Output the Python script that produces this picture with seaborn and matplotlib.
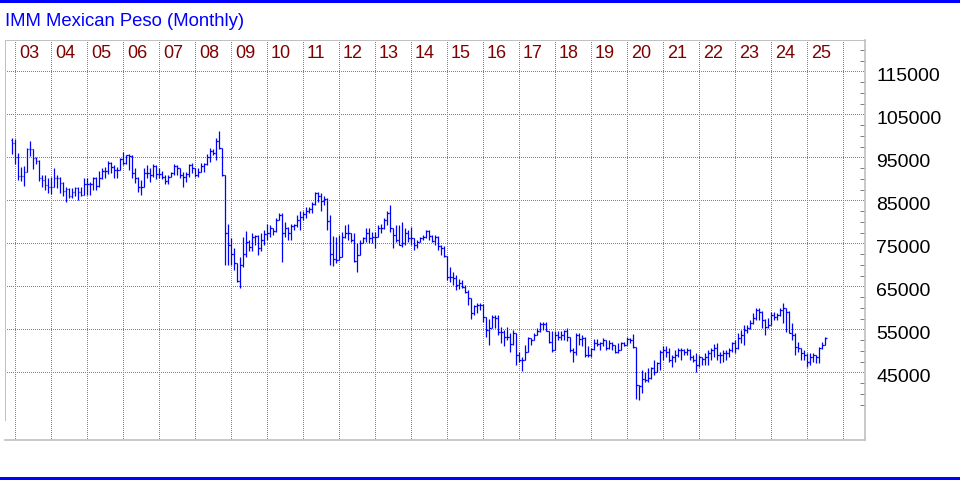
import numpy as np
import matplotlib
matplotlib.use("Agg")
import matplotlib.pyplot as plt
import matplotlib.transforms as mtransforms
from matplotlib.ticker import FixedLocator
import seaborn as sns

title = "IMM Mexican Peso (Monthly)"
years = ["03", "04", "05", "06", "07", "08", "09", "10", "11", "12", "13", "14",
         "15", "16", "17", "18", "19", "20", "21", "22", "23", "24", "25"]
price_labels = [45000, 55000, 65000, 75000, 85000, 95000, 105000, 115000]

# monthly bars Dec 2002 .. Jul 2025, prices in thousands
opens = [99.0,
         98.3, 95.0, 90.7, 90.6, 91.5, 96.9, 96.9, 94.8, 94.1, 90.1, 89.8, 88.5,
         88.0, 88.2, 90.3, 90.3, 89.0, 87.2, 87.6, 85.9, 87.0, 87.8, 87.0, 86.3,
         88.7, 88.7, 88.7, 90.1, 88.4, 90.1, 91.8, 91.8, 93.6, 92.7, 92.1, 92.1,
         94.5, 93.6, 95.5, 95.4, 91.3, 90.3, 88.2, 88.2, 91.3, 91.3, 90.9, 93.0,
         91.0, 91.0, 90.5, 89.5, 90.5, 91.3, 93.0, 92.4, 90.9, 90.5, 91.0, 93.2,
         92.4, 90.9, 91.6, 93.0, 93.4, 95.1, 96.5, 95.9, 98.8, 97.1, 90.9, 77.3,
         74.6, 72.5, 70.3, 66.3, 70.0, 72.5, 75.3, 74.2, 76.5, 76.8, 74.0, 75.8,
         77.2, 77.5, 78.5, 77.8, 80.5, 81.5, 77.3, 78.5, 77.5, 79.0, 79.3, 80.5,
         81.0, 81.8, 82.5, 83.0, 84.2, 86.8, 86.0, 84.8, 85.2, 80.3, 72.6, 71.3,
         71.1, 71.9, 76.5, 77.3, 77.3, 75.8, 70.9, 72.3, 75.0, 76.2, 77.3, 76.2,
         76.5, 76.5, 78.5, 78.5, 80.4, 82.0, 78.5, 76.9, 75.8, 74.7, 75.0, 77.3,
         76.2, 76.2, 74.6, 75.4, 76.2, 76.5, 77.9, 76.8, 75.6, 76.5, 74.4, 74.0,
         72.0, 67.2, 67.2, 66.9, 65.3, 65.8, 64.9, 63.6, 62.2, 58.7, 60.3, 60.7,
         60.7, 57.9, 54.8, 55.2, 57.9, 57.6, 54.3, 54.3, 53.1, 53.1, 51.5, 54.1,
         49.0, 47.9, 47.9, 49.8, 52.9, 52.6, 53.7, 54.5, 56.2, 56.2, 54.5, 52.1,
         50.2, 53.7, 53.3, 53.7, 54.5, 53.2, 50.2, 49.8, 53.7, 52.7, 52.9, 49.0,
         49.0, 50.3, 51.7, 51.6, 51.7, 52.5, 50.6, 51.9, 51.4, 49.8, 50.2, 51.7,
         51.4, 52.7, 52.5, 50.8, 42.0, 41.7, 43.5, 43.2, 43.6, 45.9, 45.1, 47.1,
         49.8, 50.2, 49.8, 47.9, 48.6, 49.0, 50.2, 50.2, 49.8, 50.2, 48.6, 47.9,
         46.7, 48.6, 48.2, 48.6, 49.4, 50.2, 50.6, 49.0, 49.0, 49.4, 49.4, 50.2,
         51.7, 50.6, 52.9, 53.7, 54.8, 55.2, 56.4, 57.6, 59.5, 59.1, 57.2, 55.6,
         56.0, 58.3, 57.9, 58.3, 59.5, 59.9, 59.1, 54.1, 53.7, 50.9, 50.6, 49.4,
         49.0, 47.5, 48.6, 49.0, 48.6, 50.6, 51.4]

highs = [99.4,
         99.3, 95.9, 92.8, 93.0, 97.1, 98.8, 97.0, 95.0, 94.3, 90.9, 90.9, 90.1,
         90.5, 92.4, 90.9, 90.5, 89.2, 88.0, 87.8, 87.8, 88.2, 88.2, 88.2, 90.1,
         90.1, 89.3, 90.5, 90.5, 91.7, 92.4, 92.8, 94.2, 94.0, 93.2, 92.8, 94.8,
         96.3, 95.5, 95.8, 95.6, 92.4, 90.5, 89.7, 92.4, 93.2, 92.6, 93.4, 93.2,
         92.6, 91.8, 90.9, 90.9, 91.6, 93.4, 93.2, 92.6, 91.6, 91.6, 93.4, 93.6,
         92.5, 92.6, 93.6, 93.6, 95.7, 97.1, 96.9, 99.4, 101.0, 97.2, 90.9, 79.6,
         76.2, 73.8, 70.4, 71.9, 76.5, 77.9, 75.8, 77.3, 77.0, 77.0, 77.3, 78.1,
         79.6, 79.3, 78.6, 80.8, 82.0, 82.0, 80.0, 78.9, 79.6, 79.6, 81.6, 82.4,
         82.4, 83.5, 83.5, 84.7, 87.0, 87.0, 86.6, 86.0, 85.6, 81.5, 76.7, 76.5,
         76.9, 77.7, 79.3, 79.4, 77.3, 77.3, 75.0, 75.8, 76.5, 78.6, 78.5, 77.7,
         77.7, 79.3, 79.6, 80.8, 82.4, 83.8, 78.6, 79.3, 79.3, 80.0, 78.5, 78.1,
         78.9, 76.3, 75.8, 76.5, 76.9, 78.1, 78.1, 76.9, 76.9, 76.6, 74.6, 74.4,
         72.1, 69.6, 68.4, 67.6, 66.8, 66.5, 65.3, 64.1, 62.3, 60.7, 61.0, 61.0,
         60.8, 57.9, 57.5, 58.3, 58.3, 58.3, 55.6, 54.8, 55.6, 54.1, 54.8, 54.2,
         49.8, 48.6, 51.4, 53.3, 53.0, 54.1, 55.2, 56.8, 56.8, 56.8, 54.6, 54.5,
         54.5, 54.5, 54.5, 54.8, 55.2, 53.3, 50.6, 54.1, 54.1, 53.7, 53.3, 51.0,
         50.6, 52.7, 52.7, 52.1, 52.9, 52.5, 52.4, 52.1, 51.4, 51.7, 52.1, 52.1,
         53.3, 52.9, 53.9, 50.8, 42.1, 45.5, 45.1, 45.9, 46.3, 47.9, 47.5, 50.2,
         51.0, 51.0, 50.6, 49.0, 50.2, 50.6, 50.6, 50.3, 50.6, 50.3, 49.0, 49.4,
         49.0, 48.6, 49.6, 50.2, 50.6, 51.5, 51.7, 49.8, 50.2, 50.2, 50.6, 52.1,
         52.5, 54.1, 54.8, 56.0, 56.0, 57.2, 58.7, 59.9, 59.9, 59.2, 57.3, 57.6,
         59.1, 59.1, 58.7, 59.9, 61.0, 60.0, 59.2, 56.4, 54.1, 52.1, 50.7, 50.2,
         49.4, 49.4, 49.4, 49.1, 50.9, 52.1, 53.1]

lows = [95.7,
        93.4, 89.7, 89.6, 88.4, 91.5, 95.3, 92.2, 93.5, 89.5, 88.2, 87.4, 86.6,
        86.5, 88.0, 87.8, 86.6, 85.9, 84.7, 85.5, 85.6, 85.9, 85.1, 85.9, 86.2,
        86.3, 86.3, 87.4, 87.4, 88.2, 90.0, 90.1, 91.0, 91.3, 90.1, 90.1, 92.0,
        93.2, 93.5, 92.1, 90.1, 89.0, 87.0, 86.3, 88.0, 90.1, 89.3, 90.5, 90.0,
        90.1, 89.9, 88.7, 88.9, 90.4, 90.9, 90.9, 90.1, 88.2, 89.3, 90.5, 91.3,
        90.5, 90.5, 91.5, 91.6, 93.2, 94.0, 95.5, 94.4, 96.9, 90.7, 70.0, 70.0,
        70.0, 68.8, 66.1, 64.5, 69.6, 71.7, 73.1, 73.1, 74.6, 72.3, 73.1, 74.6,
        75.8, 76.5, 77.0, 77.7, 80.4, 70.7, 76.5, 75.8, 75.8, 78.2, 78.9, 78.1,
        80.4, 80.8, 82.0, 82.0, 84.0, 84.5, 82.4, 84.0, 78.1, 70.0, 69.8, 70.4,
        71.1, 71.8, 76.2, 75.8, 75.4, 70.7, 68.4, 72.2, 75.0, 75.4, 75.0, 75.0,
        73.8, 76.4, 77.3, 78.4, 79.3, 77.7, 73.8, 75.4, 74.6, 74.2, 74.6, 75.4,
        74.6, 73.5, 73.8, 75.3, 75.8, 76.2, 75.8, 75.4, 74.6, 73.4, 72.3, 71.9,
        66.5, 66.1, 65.3, 64.1, 64.3, 64.5, 63.4, 60.7, 57.5, 58.3, 58.7, 59.5,
        56.8, 53.3, 51.4, 55.2, 55.2, 53.7, 51.8, 51.0, 52.5, 49.8, 51.4, 46.7,
        47.5, 45.2, 47.8, 49.7, 51.4, 52.5, 53.6, 54.4, 54.8, 54.5, 51.8, 49.8,
        50.1, 52.5, 52.5, 52.5, 52.3, 49.8, 47.5, 49.0, 51.4, 51.0, 48.6, 48.6,
        48.6, 50.2, 51.0, 50.2, 51.0, 50.2, 50.5, 50.2, 49.4, 49.4, 50.1, 51.0,
        51.3, 51.7, 50.6, 38.9, 38.6, 40.1, 42.8, 42.8, 43.5, 44.4, 45.0, 45.5,
        47.9, 48.6, 47.5, 46.3, 47.5, 48.6, 47.9, 49.0, 49.0, 47.9, 47.5, 45.1,
        46.3, 46.7, 46.7, 46.7, 47.9, 48.6, 47.9, 47.1, 47.5, 47.9, 48.6, 49.8,
        49.4, 50.5, 51.7, 51.4, 54.1, 55.1, 56.3, 57.2, 57.2, 55.2, 53.7, 55.2,
        55.9, 57.2, 57.2, 58.2, 56.4, 54.4, 54.1, 52.5, 49.0, 49.8, 47.9, 47.9,
        46.3, 46.7, 47.5, 47.1, 47.1, 50.5, 51.3]

closes = [98.3,
          95.0, 90.7, 90.6, 91.5, 96.9, 96.9, 94.8, 94.1, 90.1, 89.8, 88.5, 88.0,
          88.2, 90.3, 90.3, 89.0, 87.2, 87.6, 85.9, 87.0, 87.8, 87.0, 86.3, 88.7,
          88.7, 88.7, 90.1, 88.4, 90.1, 91.8, 91.8, 93.6, 92.7, 92.1, 92.1, 94.5,
          93.6, 95.5, 95.4, 91.3, 90.3, 88.2, 88.2, 91.3, 91.3, 90.9, 93.0, 91.0,
          91.0, 90.5, 89.5, 90.5, 91.3, 93.0, 92.4, 90.9, 90.5, 91.0, 93.2, 92.4,
          90.9, 91.6, 93.0, 93.4, 95.1, 96.5, 95.9, 98.8, 97.1, 90.9, 77.3, 74.6,
          72.5, 70.3, 66.3, 70.0, 72.5, 75.3, 74.2, 76.5, 76.8, 74.0, 75.8, 77.2,
          77.5, 78.5, 77.8, 80.5, 81.5, 77.3, 78.5, 77.5, 79.0, 79.3, 80.5, 81.0,
          81.8, 82.5, 83.0, 84.2, 86.8, 86.0, 84.8, 85.2, 80.3, 72.6, 71.3, 71.1,
          71.9, 76.5, 77.3, 77.3, 75.8, 70.9, 72.3, 75.0, 76.2, 77.3, 76.2, 76.5,
          76.5, 78.5, 78.5, 80.4, 82.0, 78.5, 76.9, 75.8, 74.7, 75.0, 77.3, 76.2,
          76.2, 74.6, 75.4, 76.2, 76.5, 77.9, 76.8, 75.6, 76.5, 74.4, 74.0, 72.0,
          67.2, 67.2, 66.9, 65.3, 65.8, 64.9, 63.6, 62.2, 58.7, 60.3, 60.7, 60.7,
          57.9, 54.8, 55.2, 57.9, 57.6, 54.3, 54.3, 53.1, 53.1, 51.5, 54.1, 49.0,
          47.9, 47.9, 49.8, 52.9, 52.6, 53.7, 54.5, 56.2, 56.2, 54.5, 52.1, 50.2,
          53.7, 53.3, 53.7, 54.5, 53.2, 50.2, 49.8, 53.7, 52.7, 52.9, 49.0, 49.0,
          50.3, 51.7, 51.6, 51.7, 52.5, 50.6, 51.9, 51.4, 49.8, 50.2, 51.7, 51.4,
          52.7, 52.5, 50.8, 42.0, 41.7, 43.5, 43.2, 43.6, 45.9, 45.1, 47.1, 49.8,
          50.2, 49.8, 47.9, 48.6, 49.0, 50.2, 50.2, 49.8, 50.2, 48.6, 47.9, 46.7,
          48.6, 48.2, 48.6, 49.4, 50.2, 50.6, 49.0, 49.0, 49.4, 49.4, 50.2, 51.7,
          50.6, 52.9, 53.7, 54.8, 55.2, 56.4, 57.6, 59.5, 59.1, 57.2, 55.6, 56.0,
          58.3, 57.9, 58.3, 59.5, 59.9, 59.1, 54.1, 53.7, 50.9, 50.6, 49.4, 49.0,
          47.5, 48.6, 49.0, 48.6, 50.6, 51.4, 52.9]

BLUE = "#0000ff"
GRID = "#808080"
FRAME = "#c0c0c0"

sns.set_style("white")
plt.rcParams["font.family"] = ["Liberation Sans", "DejaVu Sans"]

fig = plt.figure(figsize=(9.6, 4.8), dpi=100)
W, H = 960, 480
ax = fig.add_axes([5 / W, 40 / H, 860 / W, 400 / H])

o = np.array(opens) * 1000
h = np.array(highs) * 1000
l = np.array(lows) * 1000
c = np.array(closes) * 1000
idx = np.arange(len(c))

# OHLC bars
bar_lw = 0.9
ax.vlines(idx, l, h, color=BLUE, lw=bar_lw, zorder=3)
ax.hlines(o, idx - 0.4, idx, color=BLUE, lw=bar_lw, zorder=3)
ax.hlines(c, idx, idx + 0.4, color=BLUE, lw=bar_lw, zorder=3)

ax.set_xlim(-2.43, 284.2)
ax.set_ylim(29250, 122280)

# year gridlines (first bar of each year block)
year_pos = [1 + 12 * j for j in range(len(years) + 1)]
ax.set_xticks(year_pos)
ax.set_xticklabels([])
ax.set_yticks(price_labels)
ax.set_yticklabels([])
ax.tick_params(axis="both", which="major", length=0)
ax.grid(True, which="major", color=GRID, lw=0.72, ls=(0, (1, 2)),
        antialiased=False)

# minor ticks on right axis
minor = [v for v in range(37500, 120001, 2500) if v not in price_labels]
ax.yaxis.set_minor_locator(FixedLocator(minor))
ax.tick_params(axis="y", which="minor", left=False, right=True, direction="in",
               length=3.5, width=0.72, color=GRID)

# spines
for side in ["top", "left"]:
    ax.spines[side].set_linestyle((0, (1, 1)))
    ax.spines[side].set_color(FRAME)
    ax.spines[side].set_linewidth(0.72)
    ax.spines[side].set_antialiased(False)
ax.spines["left"].set_bounds(33900, 122280)
for side in ["bottom", "right"]:
    ax.spines[side].set_color(FRAME)
    ax.spines[side].set_linewidth(1.2)

# price labels on the right
ytr = mtransforms.blended_transform_factory(ax.transAxes, ax.transData)
off = mtransforms.ScaledTranslation(11 / 100, -5 / 100, fig.dpi_scale_trans)
for v in price_labels:
    ax.text(1.0, v, str(v), transform=ytr + off, ha="left", va="center",
            fontsize=14, color="black", clip_on=False)

# year labels inside the top of the plot
xtr = mtransforms.blended_transform_factory(ax.transData, ax.transAxes)
for j, yr in enumerate(years):
    ax.text(year_pos[j] + 1.2, 0.967, yr, transform=xtr, ha="left", va="center",
            fontsize=13, color="#800000")

fig.text(5 / W, 1 - 21 / H, title, ha="left", va="center", fontsize=13.3,
         color=BLUE)

# blue rules at top and bottom
fig.add_artist(plt.Rectangle((0, 1 - 3 / H), 1, 3 / H, transform=fig.transFigure,
                             color=BLUE, lw=0))
fig.add_artist(plt.Rectangle((0, 0), 1, 3 / H, transform=fig.transFigure,
                             color=BLUE, lw=0))

fig.savefig("out.png", dpi=100)
